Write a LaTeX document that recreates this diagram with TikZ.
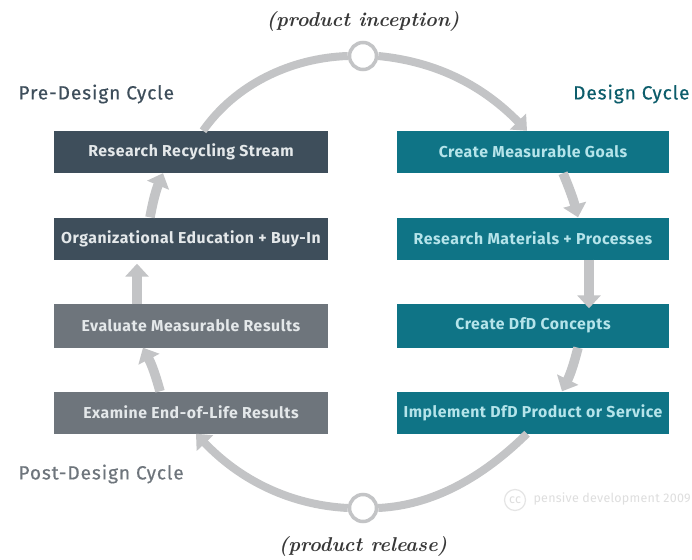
\documentclass[tikz,border=0pt]{standalone}
\usepackage{fontspec}
\setmainfont{Fira Sans}
\newfontfamily\serifit{Latin Modern Roman}
\newfontfamily\boxfont[LetterSpace=3.5]{Fira Sans}
\newfontfamily\headfont[LetterSpace=5,FakeBold=0.6]{Fira Sans}
\newfontfamily\markfont[LetterSpace=2]{Fira Sans}
\usetikzlibrary{arrows.meta,calc}
\definecolor{teal}{HTML}{0F7486}
\definecolor{slatebox}{HTML}{3E4E5B}
\definecolor{graybox}{HTML}{6E757C}
\definecolor{flow}{HTML}{C3C4C6}
\definecolor{tealtext}{HTML}{B5E4EA}
\definecolor{lighttext}{HTML}{E4E8EA}
\tikzset{
  x=1pt,y=-1pt,
  cyclebox/.style={rectangle,minimum height=42pt,inner sep=0pt,font=\boxfont\fontsize{15.8}{17}\selectfont\bfseries},
  rightbox/.style={cyclebox,fill=teal,text=tealtext,minimum width=272pt},
  slate/.style={cyclebox,fill=slatebox,text=lighttext,minimum width=274pt},
  grayish/.style={cyclebox,fill=graybox,text=lighttext,minimum width=274pt},
  hub/.style={circle,draw=flow,line width=3.5pt,fill=white,minimum size=27pt,inner sep=0pt},
  flowline/.style={draw=flow,line width=8pt},
  flowarrow/.style={flowline,-{Triangle[width=22pt,length=13pt]}},
  shortarrow/.style={flowarrow,line width=9.5pt,-{Triangle[width=23pt,length=13pt]}},
  note/.style={font=\serifit\fontsize{20}{22}\selectfont\bfseries\itshape,text=black!78},
  heading/.style={font=\headfont\fontsize{19}{21}\selectfont,anchor=west},
  faint/.style={text=black!13,font=\markfont\fontsize{12.5}{14}\selectfont}
}
\begin{document}
\begin{tikzpicture}
\useasboundingbox (0,0) rectangle (692,559);
\fill[white] (0,0) rectangle (692,559);
\node[rightbox] (r1) at (533,152) {Create Measurable Goals};
\node[rightbox] (r2) at (533,238.5) {Research Materials + Processes};
\node[rightbox,minimum height=44pt] (r3) at (533,325.5) {Create DfD Concepts};
\node[rightbox] (r4) at (533,412.5) {Implement DfD Product or Service};
\node[slate] (l1) at (191,152) {Research Recycling Stream};
\node[slate] (l2) at (191,238.5) {Organizational Education + Buy-In};
\node[grayish,minimum height=44pt] (l3) at (191,325.5) {Evaluate Measurable Results};
\node[grayish] (l4) at (191,412.5) {Examine End-of-Life Results};
\node[hub] (top) at (363,56) {};
\node[hub] (bot) at (363,508) {};
\draw[flowline] ([xshift=12pt]l1.north) .. controls (235,85) and (290,58) .. (top.west);
\draw[flowarrow] (top.east) .. controls (440,62) and (485,88) .. ([xshift=-6pt]r1.north);
\draw[shortarrow] ([xshift=30pt]r1.south) to[bend left=4] ([xshift=45pt]r2.north);
\draw[shortarrow] ([xshift=56pt]r2.south) -- ([xshift=56pt,yshift=-5pt]r3.north);
\draw[shortarrow] ([xshift=45pt]r3.south) to[bend left=6] ([xshift=29pt]r4.north);
\draw[flowline] ([xshift=-6pt]r4.south) .. controls (490,470) and (440,505) .. (bot.east);
\draw[flowarrow] (bot.west) .. controls (290,505) and (240,480) .. ([xshift=5pt]l4.south);
\draw[shortarrow] ([xshift=-31pt]l4.north) to[bend right=6] ([xshift=-48pt]l3.south);
\draw[shortarrow] ([xshift=-54pt,yshift=-1pt]l3.north) -- ([xshift=-54pt,yshift=-4pt]l2.south);
\draw[shortarrow] ([xshift=-41pt]l2.north) to[bend left=6] ([xshift=-28pt]l1.south);
\node[note] (inc) at (363,21) {(product inception)};
\node[note] (rel) at (363,546) {(product release)};
\node[heading,text=slatebox] (pre) at (15,94) {Pre-Design Cycle};
\node[heading,text=teal!80!black,anchor=east] (des) at (693,94) {Design Cycle};
\node[heading,text=graybox] (post) at (15,474) {Post-Design Cycle};
\node[circle,draw=black!10,line width=1.2pt,minimum size=21pt,inner sep=0pt,faint] (cc) at (515,500) {cc};
\node[faint,anchor=west] (mark) at (530,499) {pensive development 2009};
\end{tikzpicture}
\end{document}
